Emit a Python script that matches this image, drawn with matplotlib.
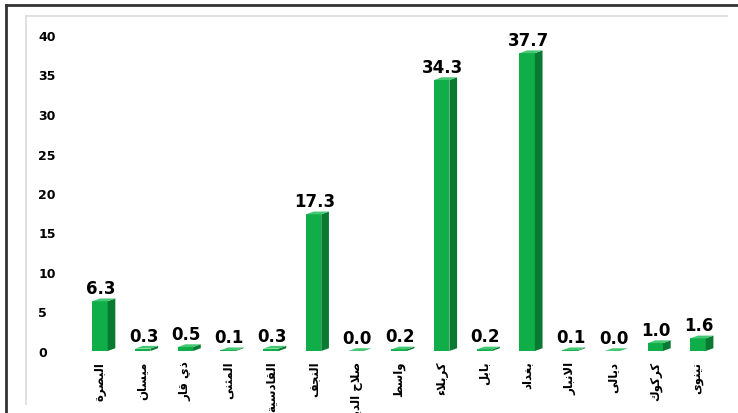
import matplotlib.pyplot as plt
from matplotlib.patches import Polygon
from matplotlib.lines import Line2D

# Data
provinces = ['البصرة', 'ميسان', 'ذي قار', 'المثنى', 'القادسية', 'النجف', 'صلاح الدين',
             'واسط', 'كربلاء', 'بابل', 'بغداد', 'الانبار', 'ديالى', 'كركوك', 'نينوى']
values = [6.3, 0.3, 0.5, 0.1, 0.3, 17.3, 0.0, 0.2, 34.3, 0.2, 37.7, 0.1, 0.0, 1.0, 1.6]
yticks = [0, 5, 10, 15, 20, 25, 30, 35, 40]

# matplotlib has no Arabic shaping, so pick presentation forms by hand
# letter: (isolated, final, initial, medial); right-joining letters have only 2
FORMS = {
    'ا': (0xFE8D, 0xFE8E), 'أ': (0xFE83, 0xFE84), 'ء': (0xFE80, 0xFE80),
    'ب': (0xFE8F, 0xFE90, 0xFE91, 0xFE92), 'ة': (0xFE93, 0xFE94),
    'ت': (0xFE95, 0xFE96, 0xFE97, 0xFE98), 'ث': (0xFE99, 0xFE9A, 0xFE9B, 0xFE9C),
    'ج': (0xFE9D, 0xFE9E, 0xFE9F, 0xFEA0), 'ح': (0xFEA1, 0xFEA2, 0xFEA3, 0xFEA4),
    'د': (0xFEA9, 0xFEAA), 'ذ': (0xFEAB, 0xFEAC), 'ر': (0xFEAD, 0xFEAE),
    'س': (0xFEB1, 0xFEB2, 0xFEB3, 0xFEB4), 'ص': (0xFEB9, 0xFEBA, 0xFEBB, 0xFEBC),
    'ط': (0xFEC1, 0xFEC2, 0xFEC3, 0xFEC4), 'غ': (0xFECD, 0xFECE, 0xFECF, 0xFED0),
    'ف': (0xFED1, 0xFED2, 0xFED3, 0xFED4), 'ق': (0xFED5, 0xFED6, 0xFED7, 0xFED8),
    'ك': (0xFED9, 0xFEDA, 0xFEDB, 0xFEDC), 'ل': (0xFEDD, 0xFEDE, 0xFEDF, 0xFEE0),
    'م': (0xFEE1, 0xFEE2, 0xFEE3, 0xFEE4), 'ن': (0xFEE5, 0xFEE6, 0xFEE7, 0xFEE8),
    'و': (0xFEED, 0xFEEE), 'ى': (0xFEEF, 0xFEF0), 'ي': (0xFEF1, 0xFEF2, 0xFEF3, 0xFEF4),
}


def shape(text):
    out = []
    i = 0
    while i < len(text):
        c = text[i]
        if c not in FORMS:
            out.append(c)
            i += 1
            continue
        prev = text[i - 1] if i > 0 else ''
        joins_prev = prev in FORMS and len(FORMS[prev]) == 4
        nxt = text[i + 1] if i + 1 < len(text) else ''
        if c == 'ل' and nxt == 'ا':
            out.append(chr(0xFEFC if joins_prev else 0xFEFB))
            i += 2
            continue
        joins_next = len(FORMS[c]) == 4 and nxt in FORMS
        f = FORMS[c]
        if joins_prev and joins_next:
            out.append(chr(f[3]))
        elif joins_prev:
            out.append(chr(f[1]))
        elif joins_next:
            out.append(chr(f[2]))
        else:
            out.append(chr(f[0]))
        i += 1
    return ''.join(reversed(out))


front = '#0FAE48'
side = '#0A7A33'
top = '#45C873'
w, dx, dy = 0.36, 0.18, 0.35

fig = plt.figure(figsize=(7.38, 4.14), dpi=100)
ax = fig.add_axes([78.6 / 738, 62 / 414, 640.8 / 738, 316 / 414])

xs = list(range(len(values)))
ax.bar(xs, values, width=w, color=front, zorder=2)
for x, v in zip(xs, values):
    r = x + w / 2
    ax.add_patch(Polygon([(r, 0), (r + dx, dy), (r + dx, v + dy), (r, v)],
                         closed=True, facecolor=side, edgecolor='none', zorder=2))
    ax.add_patch(Polygon([(x - w / 2, v), (r, v), (r + dx, v + dy), (x - w / 2 + dx, v + dy)],
                         closed=True, facecolor=top, edgecolor='none', zorder=3))
    ax.annotate('%.1f' % v, (x, v), xytext=(1, 4), textcoords='offset pixels',
                ha='center', va='bottom', fontsize=12, fontweight='bold',
                family='DejaVu Sans', color='black', annotation_clip=False)

ax.set_xlim(-0.5, len(values) - 0.5)
ax.set_ylim(0, 40)
ax.set_yticks(yticks)
ax.set_yticklabels([str(t) for t in yticks], fontsize=9, fontweight='bold')
for lab in ax.get_yticklabels():
    lab.set_ha('left')
ax.tick_params(axis='y', length=0, pad=29)
ax.set_xticks(xs)
ax.set_xticklabels([shape(p) for p in provinces], rotation=90, fontsize=8.5,
                   fontweight='bold', family='DejaVu Sans', va='top', ha='center')
ax.tick_params(axis='x', length=0, pad=7)
for s in ax.spines.values():
    s.set_visible(False)

# chart area frame and outer frame
fig.add_artist(Line2D([26 / 738, 26 / 738], [9 / 414, 397 / 414], color='#DADADA', lw=1.2))
fig.add_artist(Line2D([26 / 738, 727 / 738], [397 / 414, 397 / 414], color='#DADADA', lw=1.2))
fig.add_artist(Line2D([6 / 738, 6 / 738], [0, 408 / 414], color='#333333', lw=2))
fig.add_artist(Line2D([6 / 738, 1], [408 / 414, 408 / 414], color='#333333', lw=2))

plt.savefig('out.png', dpi=100)
